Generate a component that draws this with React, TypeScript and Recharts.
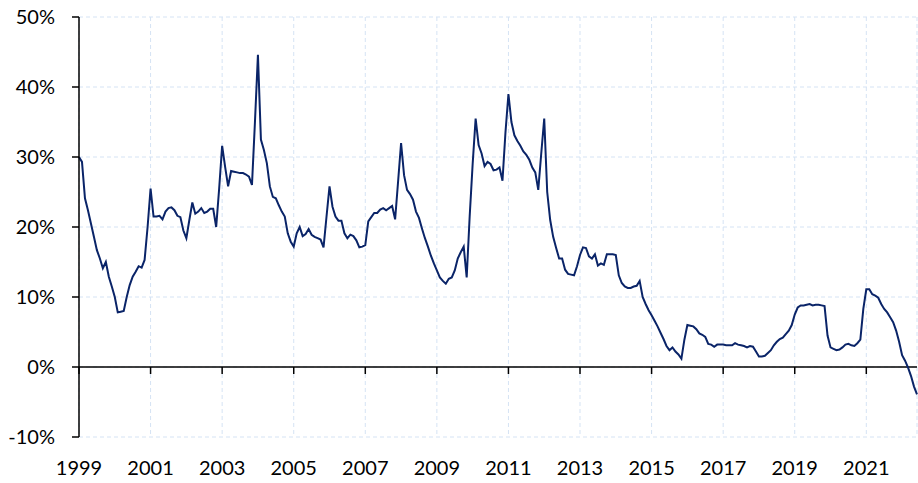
import { LineChart, Line, XAxis, YAxis, CartesianGrid, ReferenceLine } from "recharts";

// monthly values, %, Jan..Dec
const v1999 = [30.0, 29.3, 24.1, 22.4, 20.5, 18.6, 16.7, 15.5, 14.1, 15.0, 12.9, 11.5];
const v2000 = [10.0, 7.8, 7.9, 8.0, 10.0, 11.7, 12.9, 13.6, 14.4, 14.2, 15.3, 20.0];
const v2001 = [25.5, 21.5, 21.5, 21.6, 21.1, 22.2, 22.7, 22.8, 22.4, 21.6, 21.4, 19.5];
const v2002 = [18.4, 21.0, 23.5, 21.9, 22.2, 22.7, 22.0, 22.2, 22.6, 22.6, 20.0, 25.5];
const v2003 = [31.6, 28.6, 25.8, 28.0, 27.9, 27.8, 27.7, 27.7, 27.5, 27.2, 26.0, 35.0];
const v2004 = [44.6, 32.5, 31.0, 29.1, 25.8, 24.3, 24.1, 23.1, 22.2, 21.5, 19.1, 17.9];
const v2005 = [17.2, 19.1, 20.0, 18.7, 19.0, 19.7, 18.9, 18.6, 18.4, 18.2, 17.1, 21.5];
const v2006 = [25.8, 22.9, 21.5, 20.9, 20.9, 19.1, 18.4, 18.9, 18.7, 18.1, 17.1, 17.2];
const v2007 = [17.4, 20.8, 21.4, 22.0, 22.0, 22.5, 22.7, 22.4, 22.7, 23.0, 21.1, 26.5];
const v2008 = [32.0, 27.4, 25.3, 24.7, 23.9, 22.2, 21.3, 19.8, 18.4, 17.2, 15.9, 14.8];
const v2009 = [13.8, 12.8, 12.3, 11.9, 12.6, 12.8, 13.8, 15.5, 16.4, 17.2, 12.8, 21.5];
const v2010 = [29.0, 35.5, 31.7, 30.5, 28.7, 29.3, 29.0, 28.1, 28.2, 28.5, 26.6, 33.5];
const v2011 = [39.0, 35.0, 33.1, 32.3, 31.6, 30.8, 30.3, 29.6, 28.5, 27.8, 25.3, 30.5];
const v2012 = [35.5, 25.0, 21.0, 18.6, 17.0, 15.5, 15.5, 13.9, 13.3, 13.2, 13.1, 14.4];
const v2013 = [16.0, 17.1, 17.0, 15.8, 15.5, 16.1, 14.5, 14.8, 14.6, 16.1, 16.1, 16.1];
const v2014 = [16.0, 13.1, 12.0, 11.5, 11.3, 11.3, 11.5, 11.6, 12.3, 10.0, 9.0, 8.1];
const v2015 = [7.4, 6.6, 5.8, 4.9, 4.0, 3.0, 2.4, 2.8, 2.2, 1.8, 1.2, 3.9];
const v2016 = [6.0, 5.9, 5.8, 5.4, 4.8, 4.6, 4.3, 3.3, 3.2, 2.9, 3.2, 3.2];
const v2017 = [3.2, 3.1, 3.1, 3.1, 3.4, 3.2, 3.1, 3.0, 2.8, 3.0, 2.9, 2.2];
const v2018 = [1.5, 1.5, 1.6, 2.0, 2.4, 3.1, 3.6, 4.0, 4.2, 4.7, 5.2, 6.0];
const v2019 = [7.5, 8.5, 8.8, 8.8, 8.9, 9.0, 8.8, 8.9, 8.9, 8.8, 8.7, 4.5];
const v2020 = [2.8, 2.6, 2.4, 2.5, 2.8, 3.2, 3.3, 3.1, 3.0, 3.4, 3.9, 8.3];
const v2021 = [11.1, 11.1, 10.4, 10.2, 9.9, 9.0, 8.3, 7.8, 7.1, 6.4, 5.2, 3.6];
const v2022 = [1.7, 0.9, -0.1, -1.3, -2.8, -3.9];

const yearTicks = [1999, 2001, 2003, 2005, 2007, 2009, 2011, 2013, 2015, 2017, 2019, 2021];
const pctTicks = [-10, 0, 10, 20, 30, 40, 50];

const values = [
  v1999, v2000, v2001, v2002, v2003, v2004, v2005, v2006, v2007, v2008, v2009, v2010,
  v2011, v2012, v2013, v2014, v2015, v2016, v2017, v2018, v2019, v2020, v2021, v2022,
].flat();

const data = values.map((v, i) => ({ t: 1999 + i / 12, v }));
const lastT = data[data.length - 1].t;

const font = { fontFamily: "Lato, 'Open Sans', sans-serif", fontSize: 20, fill: "#000" };

export default function App() {
  return (
    <div>
      <style>{`body{margin:0}`}</style>
      <LineChart width={918} height={483} data={data} margin={{ top: 17, right: 1, bottom: 0, left: 0 }}>
        <CartesianGrid stroke="#D5E3F4" strokeDasharray="4 3" />
        <XAxis
          type="number"
          dataKey="t"
          domain={[1999, lastT]}
          ticks={yearTicks}
          interval={0}
          height={46}
          axisLine={false}
          tickLine={false}
          tickSize={0}
          tickMargin={24}
          tick={font}
        />
        <YAxis
          domain={[-10, 50]}
          ticks={pctTicks}
          interval={0}
          width={79}
          tickFormatter={(v) => `${v}%`}
          axisLine={{ stroke: "#000", strokeWidth: 1.5 }}
          tickLine={{ stroke: "#000", strokeWidth: 1.5 }}
          tickSize={7}
          tickMargin={17}
          tick={font}
        />
        <ReferenceLine y={0} stroke="#000" strokeWidth={1.5} />
        {yearTicks.map((yr) => (
          <ReferenceLine
            key={yr}
            segment={[{ x: yr, y: 0 }, { x: yr, y: -1 }]}
            stroke="#000"
            strokeWidth={1.5}
          />
        ))}
        <Line
          type="linear"
          dataKey="v"
          stroke="#0A2468"
          strokeWidth={2}
          dot={false}
          isAnimationActive={false}
        />
      </LineChart>
    </div>
  );
}
